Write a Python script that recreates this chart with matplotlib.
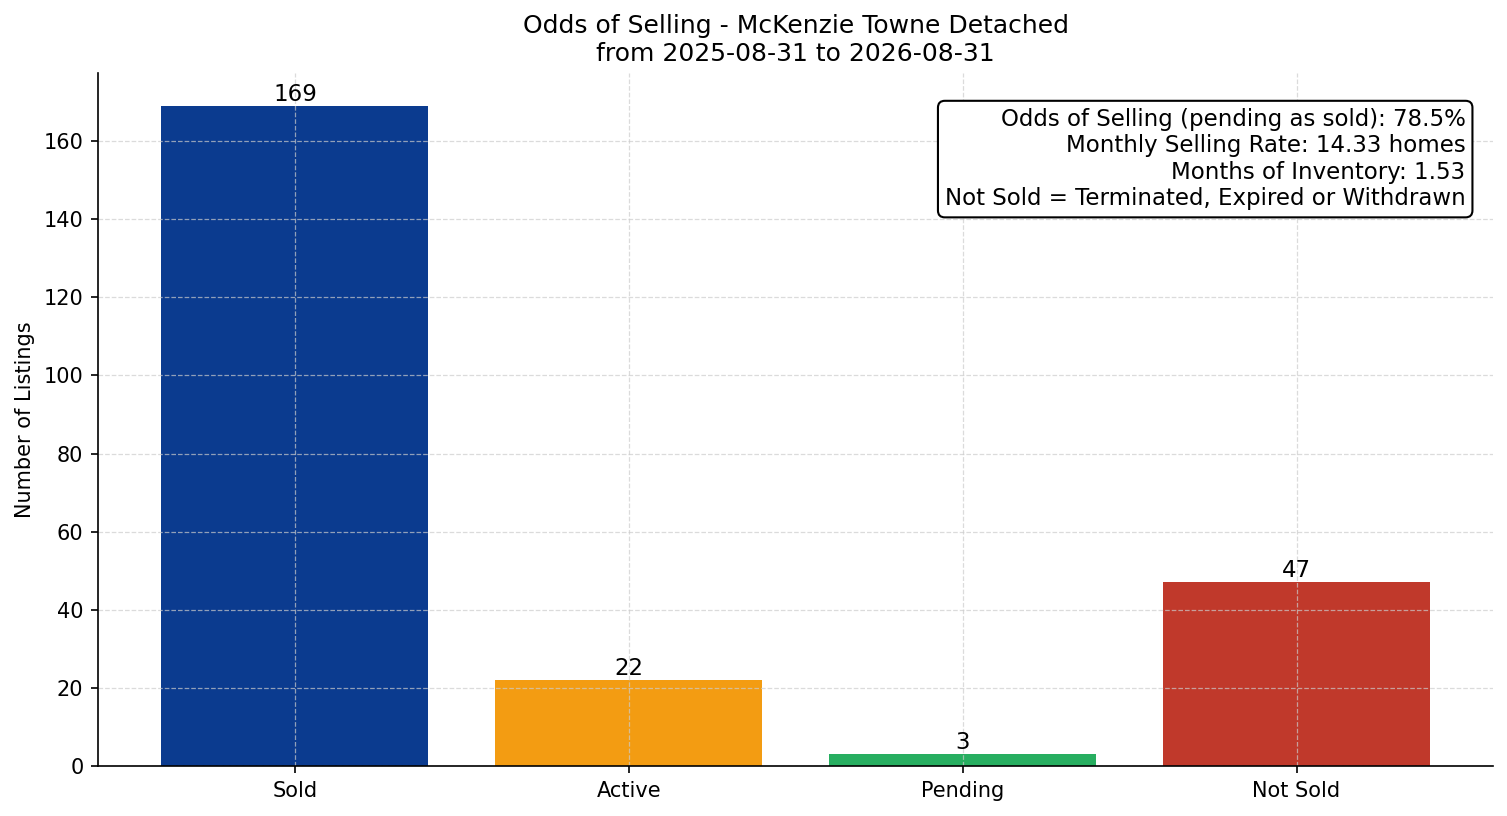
import matplotlib
matplotlib.use('Agg')
import matplotlib.pyplot as plt
import numpy as np

categories = ['Sold', 'Active', 'Pending', 'Not Sold']
counts = [169, 22, 3, 47]
colors = ['#0b3b8f', '#f39c12', '#27ae60', '#c0392b']

odds_pct = 78.5
monthly_rate = 14.33
months_inv = 1.53

fig, ax = plt.subplots(figsize=(10.05, 5.44), dpi=150)

x_ind = np.arange(len(categories))
bars = ax.bar(x_ind, counts, color=colors, width=0.8)

for b, v in zip(bars, counts):
    ax.text(b.get_x() + b.get_width() / 2, v, str(v), ha='center', va='bottom', fontsize=11)

ax.set_xticks(x_ind)
ax.set_xticklabels(categories)
ax.set_ylim(0, max(counts) * 1.05)
ax.set_ylabel('Number of Listings')
ax.set_title('Odds of Selling - McKenzie Towne Detached\nfrom 2025-08-31 to 2026-08-31', fontsize=12)
ax.grid(True, linestyle='--', linewidth=0.6, color='#cccccc', alpha=0.7)
ax.spines['top'].set_visible(False)
ax.spines['right'].set_visible(False)

info = ('Odds of Selling (pending as sold): %.1f%%\n'
        'Monthly Selling Rate: %.2f homes\n'
        'Months of Inventory: %.2f\n'
        'Not Sold = Terminated, Expired or Withdrawn') % (odds_pct, monthly_rate, months_inv)
ax.text(0.98, 0.95, info, transform=ax.transAxes, ha='right', va='top', fontsize=11,
        bbox=dict(boxstyle='round,pad=0.3', facecolor='white', edgecolor='black'))

fig.subplots_adjust(left=0.065, right=0.9907, top=0.9105, bottom=0.0613)
fig.savefig('out.png', dpi=150)
